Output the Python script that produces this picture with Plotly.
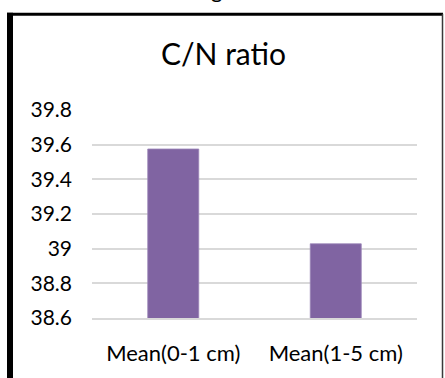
import plotly.graph_objects as go

categories = ["Mean(0-1 cm)", "Mean(1-5 cm)"]
values = [39.575, 39.028]
y_ticks = [38.6, 38.8, 39.0, 39.2, 39.4, 39.6, 39.8]
y_tick_text = ["38.6", "38.8", "39", "39.2", "39.4", "39.6", "39.8"]
title_text = "C/N ratio"

W, H = 445, 378
L, R, T, B = 92, 417, 110, 321.7

def px_x(px):
    return (px - L) / (R - L)

def px_y(py):
    return (B - py) / (B - T)

FONT = "Lato"

fig = go.Figure(go.Bar(
    x=categories, y=values,
    marker=dict(color="#8064A2", line=dict(color="#9a85b8", width=0.8)),
    width=0.314,
))

fig.update_layout(
    width=W, height=H,
    margin=dict(l=L, r=W - R, t=T, b=H - B, pad=0),
    paper_bgcolor="white", plot_bgcolor="white",
    showlegend=False,
    font=dict(family=FONT, color="#000000", size=21),
    bargap=0.686,
)
fig.update_yaxes(
    range=[38.6, 39.8], tickvals=y_ticks, ticktext=y_tick_text,
    showgrid=True, gridcolor="#d9d9d9", gridwidth=1.5,
    zeroline=False, showline=False, ticks="",
    ticklabelstandoff=19,
    tickfont=dict(family=FONT, size=21, color="#000000"),
)
fig.update_xaxes(
    showgrid=False, showline=True, linecolor="#d9d9d9", linewidth=1.5,
    ticks="", ticklabelstandoff=15,
    tickfont=dict(family=FONT, size=22, color="#000000"),
)

# title
fig.add_annotation(
    text=title_text, xref="paper", yref="paper",
    x=px_x(223.5), y=px_y(52), xanchor="center", yanchor="middle",
    showarrow=False, font=dict(family=FONT, size=30, color="#000000"),
)
# cut-off caption descender above the frame
fig.add_annotation(
    text="g", xref="paper", yref="paper",
    x=px_x(216.5), y=px_y(-13), xanchor="center", yanchor="middle",
    showarrow=False, font=dict(family=FONT, size=22, color="#000000"),
)

# frame
fig.add_shape(type="rect", xref="paper", yref="paper",
              x0=px_x(7), x1=px_x(13), y0=px_y(H + 10), y1=px_y(11),
              fillcolor="#000000", line=dict(width=0), layer="above")
fig.add_shape(type="rect", xref="paper", yref="paper",
              x0=px_x(7), x1=px_x(443), y0=px_y(14), y1=px_y(11),
              fillcolor="#000000", line=dict(width=0), layer="above")
fig.add_shape(type="line", xref="paper", yref="paper",
              x0=px_x(442.5), x1=px_x(442.5), y0=px_y(H + 10), y1=px_y(12),
              line=dict(color="#3a3a3a", width=1.5), layer="above")

fig.write_html("out.html")
